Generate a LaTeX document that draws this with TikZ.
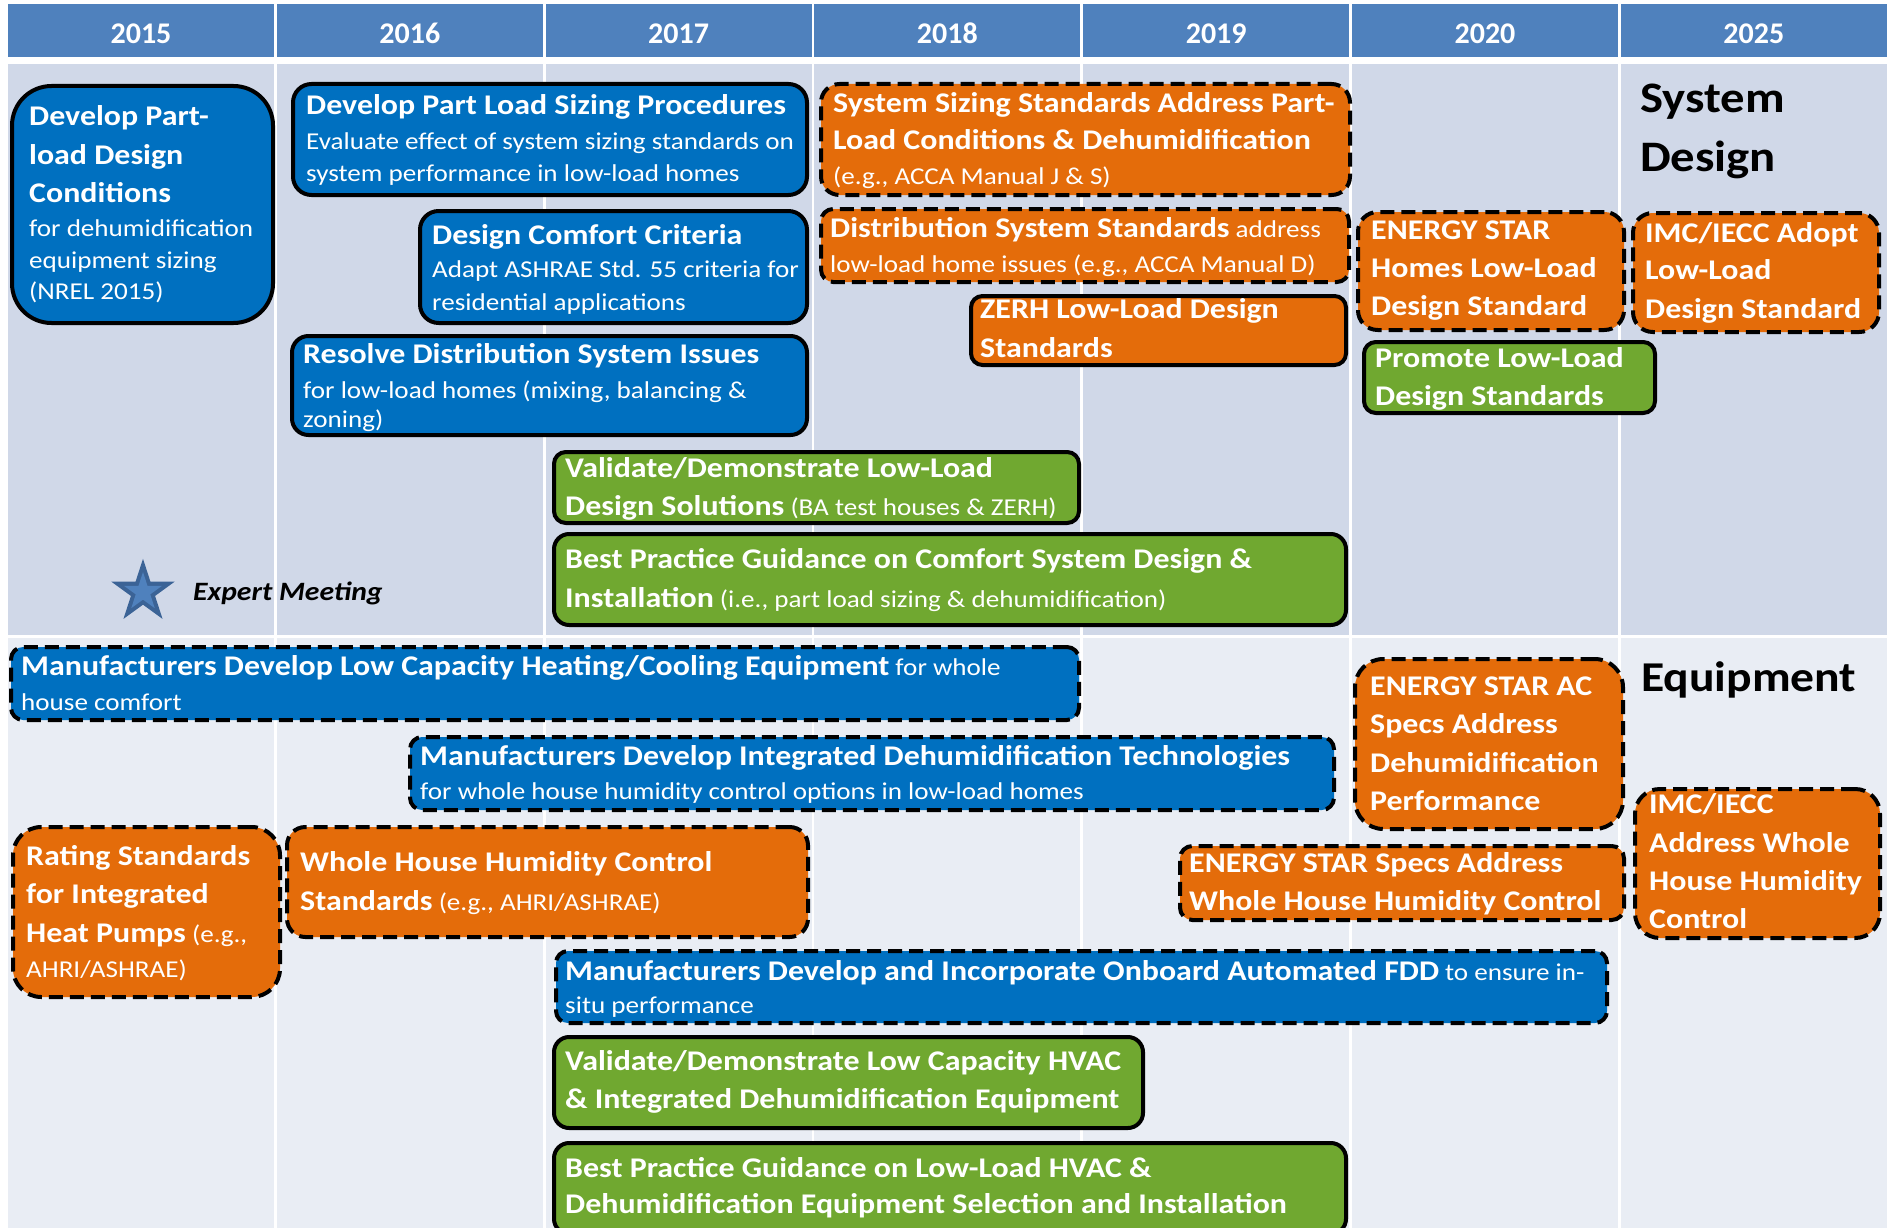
\documentclass[tikz,border=0pt]{standalone}
\usepackage{fontspec}
\setmainfont{Carlito}[FakeStretch=1.12]
\newfontfamily\yearfont{Carlito}
\usetikzlibrary{shapes.geometric}

\definecolor{hdrblue}{HTML}{4F81BD}
\definecolor{sysbg}{HTML}{D0D8E8}
\definecolor{eqbg}{HTML}{E9EDF4}
\definecolor{taskblue}{HTML}{0070C0}
\definecolor{taskorange}{HTML}{E46C0A}
\definecolor{taskgreen}{HTML}{70A830}
\definecolor{starfill}{HTML}{4F81BD}
\definecolor{staredge}{HTML}{3B6396}

% font switches for box headings and box notes
\newcommand\bxB{\fontsize{28.5}{34}\selectfont\bfseries}
\newcommand\bxR{\fontsize{24.2}{30}\selectfont\mdseries}
% stacked lines with exact baseline distances
\newcommand\bxlines[1]{\vtop{\lineskiplimit=-1000pt\lineskip=0pt #1}}
\newcommand\bxnext[2]{\baselineskip=#1pt\hbox{#2}}

% a rounded task box given by its outer pixel edges
\newcommand\taskbox[6]{%
  \pgfmathsetmacro\bxw{#5-#3-4}%
  \pgfmathsetmacro\bxh{#6-#4-4}%
  \pgfmathsetmacro\bxr{min(\bxw,\bxh)/6}%
  \node[#2, rounded corners=\bxr pt, minimum width=\bxw pt, minimum height=\bxh pt] (#1) at (#3+2,#4+2) {};}

\tikzset{
  boxbase/.style={anchor=north west, inner sep=0pt, line width=4pt, draw=black},
  solidline/.style={boxbase},
  dashline/.style={boxbase, dash pattern=on 14pt off 7pt},
  bluesolid/.style={solidline, fill=taskblue},
  bluedash/.style={dashline, fill=taskblue},
  orangesolid/.style={solidline, fill=taskorange},
  orangedash/.style={dashline, fill=taskorange},
  greensolid/.style={solidline, fill=taskgreen},
  boxtext/.style={anchor=base west, inner sep=0pt, text=white},
  yearlbl/.style={anchor=base, inner sep=0pt, text=white, font=\yearfont\fontsize{30}{36}\selectfont\bfseries},
  sectionlbl/.style={anchor=base west, inner sep=0pt, text=black},
}

\begin{document}
\begin{tikzpicture}[x=1pt, y=-1pt]
\useasboundingbox (0,0) rectangle (1891,1228);
\clip (0,0) rectangle (1891,1228);

% table: year header row and the two section rows
\foreach \yr [count=\i from 0] in {2015,2016,2017,2018,2019,2020,2025} {
  \pgfmathsetmacro\cx{8+268.8*\i}
  \fill[hdrblue] (\cx,4) rectangle (\cx+266,57);
  \fill[sysbg] (\cx,64) rectangle (\cx+266,635);
  \fill[eqbg] (\cx,638) rectangle (\cx+266,1240);
  \node[yearlbl] (yr\i) at (\cx+133,43.5) {\yr};
}

% ---------------- System Design ----------------
\node[sectionlbl] (sysl) at (1640,113) {\bxlines{\hbox{\fontsize{43.5}{50}\selectfont\bfseries System}\bxnext{59}{\fontsize{43.5}{50}\selectfont\bfseries Design}}};

\taskbox{b1}{bluesolid}{8}{82}{273}{323}
\node[boxtext] (b1t) at (29,126) {\bxlines{\hbox{\bxB Develop Part-}\bxnext{38.5}{\bxB load Design}\bxnext{38.5}{\bxB Conditions}\bxnext{34}{\bxR for dehumidification}\bxnext{31.5}{\bxR equipment sizing}\bxnext{31.5}{\bxR (NREL 2015)}}};

\taskbox{b2}{bluesolid}{289}{80}{807}{195}
\node[boxtext] (b2t) at (306,115) {\bxlines{\hbox{\bxB Develop Part Load Sizing Procedures}\bxnext{35}{\bxR Evaluate effect of system sizing standards on}\bxnext{32}{\bxR system performance in low-load homes}}};

\taskbox{b3}{bluesolid}{416}{207}{807}{323}
\node[boxtext] (b3t) at (432,244) {\bxlines{\hbox{\bxB Design Comfort Criteria}\bxnext{33}{\bxR Adapt ASHRAE Std. 55 criteria for}\bxnext{33}{\bxR residential applications}}};

\taskbox{b4}{bluesolid}{288}{332}{807}{435}
\node[boxtext] (b4t) at (303,363) {\bxlines{\hbox{\bxB Resolve Distribution System Issues}\bxnext{35}{\bxR for low-load homes (mixing, balancing \&}\bxnext{29}{\bxR zoning)}}};

\taskbox{b5}{greensolid}{550}{448}{1079}{523}
\node[boxtext] (b5t) at (565,477) {\bxlines{\hbox{\bxB Validate/Demonstrate Low-Load}\bxnext{38}{\bxB Design Solutions\bxR{} (BA test houses \& ZERH)}}};

\taskbox{b6}{greensolid}{550}{530}{1346}{625}
\node[boxtext] (b6t) at (565,568) {\bxlines{\hbox{\bxB Best Practice Guidance on Comfort System Design \&}\bxnext{39}{\bxB Installation\bxR{} (i.e., part load sizing \& dehumidification)}}};

\taskbox{o1}{orangedash}{817}{80}{1350}{195}
\node[boxtext] (o1t) at (833,113) {\bxlines{\hbox{\bxB System Sizing Standards Address Part-}\bxnext{37}{\bxB Load Conditions \& Dehumidification}\bxnext{35}{\bxR (e.g., ACCA Manual J \& S)}}};

\taskbox{o2}{orangedash}{817}{205}{1349}{282}
\node[boxtext] (o2t) at (830,237) {\bxlines{\hbox{\bxB Distribution System Standards\bxR{} address}\bxnext{35}{\bxR low-load home issues (e.g., ACCA Manual D)}}};

\taskbox{o3}{orangesolid}{967}{292}{1346}{365}
\node[boxtext] (o3t) at (980,318) {\bxlines{\hbox{\bxB ZERH Low-Load Design}\bxnext{39}{\bxB Standards}}};

\taskbox{o4}{orangedash}{1354}{208}{1624}{330}
\node[boxtext] (o4t) at (1371,239) {\bxlines{\hbox{\bxB ENERGY STAR}\bxnext{39}{\bxB Homes Low-Load}\bxnext{38}{\bxB Design Standard}}};

\taskbox{o5}{orangedash}{1629}{209}{1879}{332}
\node[boxtext] (o5t) at (1645,242) {\bxlines{\hbox{\bxB IMC/IECC Adopt}\bxnext{37}{\bxB Low-Load}\bxnext{39}{\bxB Design Standard}}};

\taskbox{g1}{greensolid}{1360}{338}{1655}{413}
\node[boxtext] (g1t) at (1375,367) {\bxlines{\hbox{\bxB Promote Low-Load}\bxnext{38}{\bxB Design Standards}}};

% expert meeting marker
\node[star, star points=5, star point ratio=2.618, minimum size=60pt, inner sep=0pt, fill=staredge, draw=staredge, line width=2pt] (starout) at (143,592) {};
\node[star, star points=5, star point ratio=2.618, minimum size=40pt, inner sep=0pt, fill=starfill] (starin) at (143,592) {};
\node[sectionlbl] (expert) at (193,600) {\fontsize{26.5}{30}\selectfont\bfseries\itshape Expert Meeting};

% ---------------- Equipment ----------------
\node[sectionlbl] (eql) at (1641,691) {\fontsize{42.5}{50}\selectfont\bfseries Equipment};

\taskbox{e1}{bluedash}{7}{643}{1079}{720}
\node[boxtext] (e1t) at (21,675) {\bxlines{\hbox{\bxB Manufacturers Develop Low Capacity Heating/Cooling Equipment\bxR{} for whole}\bxnext{35}{\bxR house comfort}}};

\taskbox{e2}{bluedash}{406}{733}{1334}{810}
\node[boxtext] (e2t) at (420,765) {\bxlines{\hbox{\bxB Manufacturers Develop Integrated Dehumidification Technologies}\bxnext{34}{\bxR for whole house humidity control options in low-load homes}}};

\taskbox{e3}{orangedash}{9}{823}{280}{997}
\node[boxtext] (e3t) at (26,865) {\bxlines{\hbox{\bxB Rating Standards}\bxnext{38}{\bxB for Integrated}\bxnext{39}{\bxB Heat Pumps\bxR{} (e.g.,}\bxnext{35}{\bxR AHRI/ASHRAE)}}};

\taskbox{e4}{orangedash}{283}{823}{808}{937}
\node[boxtext] (e4t) at (300,871) {\bxlines{\hbox{\bxB Whole House Humidity Control}\bxnext{39}{\bxB Standards\bxR{} (e.g., AHRI/ASHRAE)}}};

\taskbox{e5}{bluedash}{552}{947}{1607}{1023}
\node[boxtext] (e5t) at (565,980) {\bxlines{\hbox{\bxB Manufacturers Develop and Incorporate Onboard Automated FDD\bxR{} to ensure in-}\bxnext{33}{\bxR situ performance}}};

\taskbox{e6}{greensolid}{550}{1033}{1143}{1128}
\node[boxtext] (e6t) at (565,1070) {\bxlines{\hbox{\bxB Validate/Demonstrate Low Capacity HVAC}\bxnext{38}{\bxB \& Integrated Dehumidification Equipment}}};

\taskbox{e7}{greensolid}{550}{1139}{1346}{1234}
\node[boxtext] (e7t) at (565,1177) {\bxlines{\hbox{\bxB Best Practice Guidance on Low-Load HVAC \&}\bxnext{36}{\bxB Dehumidification Equipment Selection and Installation}}};

\taskbox{e8}{orangedash}{1351}{655}{1623}{829}
\node[boxtext] (e8t) at (1370,695) {\bxlines{\hbox{\bxB ENERGY STAR AC}\bxnext{38}{\bxB Specs Address}\bxnext{39}{\bxB Dehumidification}\bxnext{38}{\bxB Performance}}};

\taskbox{e9}{orangedash}{1176}{842}{1624}{920}
\node[boxtext] (e9t) at (1189,872) {\bxlines{\hbox{\bxB ENERGY STAR Specs Address}\bxnext{38}{\bxB Whole House Humidity Control}}};

\taskbox{e10}{orangedash}{1631}{785}{1880}{938}
\node[boxtext] (e10t) at (1649,813) {\bxlines{\hbox{\bxB IMC/IECC}\bxnext{39}{\bxB Address Whole}\bxnext{38}{\bxB House Humidity}\bxnext{38}{\bxB Control}}};

\end{tikzpicture}
\end{document}
